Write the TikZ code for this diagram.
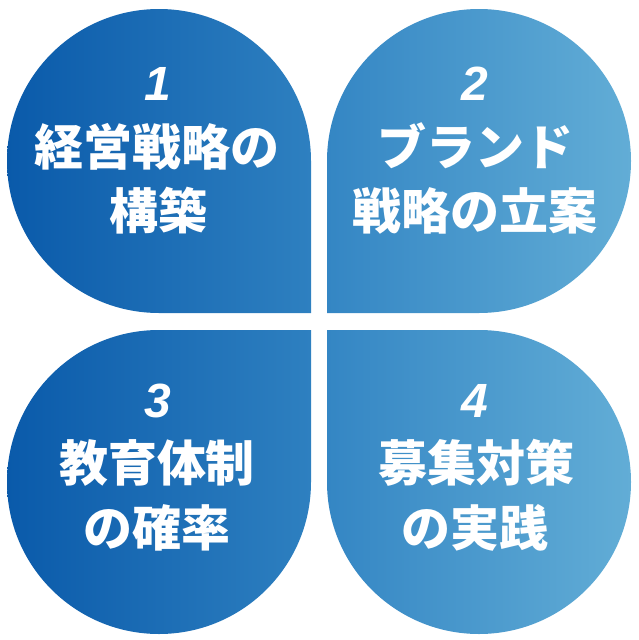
\documentclass[tikz,border=0pt]{standalone}
\usepackage{fontspec}
\newfontfamily\jpfont{Noto Sans CJK JP}
\newfontfamily\numfont{Liberation Sans}
\definecolor{cA}{RGB}{10,90,170}
\definecolor{cB}{RGB}{46,128,192}
\definecolor{cC}{RGB}{52,134,196}
\definecolor{cD}{RGB}{98,173,214}
\tikzset{
  leftpetal/.style={left color=cA, right color=cB, draw=none},
  rightpetal/.style={left color=cC, right color=cD, draw=none},
  numlabel/.style={anchor=base, text=white, inner sep=0pt, font=\numfont\bfseries\itshape\fontsize{48}{48}\selectfont},
  jplabel/.style={anchor=base, text=white, inner sep=0pt, font=\jpfont\bfseries\fontsize{49}{49}\selectfont}
}
\begin{document}
\begin{tikzpicture}[x=1pt,y=-1pt]
\useasboundingbox (0,0) rectangle (638,640);
% petals
\shade[leftpetal] (311,313) -- (311,161) arc[start angle=0,end angle=-270,radius=152] -- cycle;
\shade[rightpetal] (327,313) -- (479,313) arc[start angle=90,end angle=-180,radius=152] -- cycle;
\shade[leftpetal] (311,330) -- (159,330) arc[start angle=-90,end angle=-360,radius=152] -- cycle;
\shade[rightpetal] (327,330) -- (327,482) arc[start angle=180,end angle=-90,radius=152] -- cycle;
% texts
\node[numlabel] (n1) at (158,100) {1};
\node[jplabel] (t1a) at (157,165) {経営戦略の};
\node[jplabel] (t1b) at (158,229) {構築};
\node[numlabel] (n2) at (475,100) {2};
\node[jplabel] (t2a) at (475,165) {ブランド};
\node[jplabel] (t2b) at (475,229) {戦略の立案};
\node[numlabel] (n3) at (158,417) {3};
\node[jplabel] (t3a) at (157,481) {教育体制};
\node[jplabel] (t3b) at (157,546) {の確率};
\node[numlabel] (n4) at (475,417) {4};
\node[jplabel] (t4a) at (476,481) {募集対策};
\node[jplabel] (t4b) at (475,546) {の実践};
\end{tikzpicture}
\end{document}
